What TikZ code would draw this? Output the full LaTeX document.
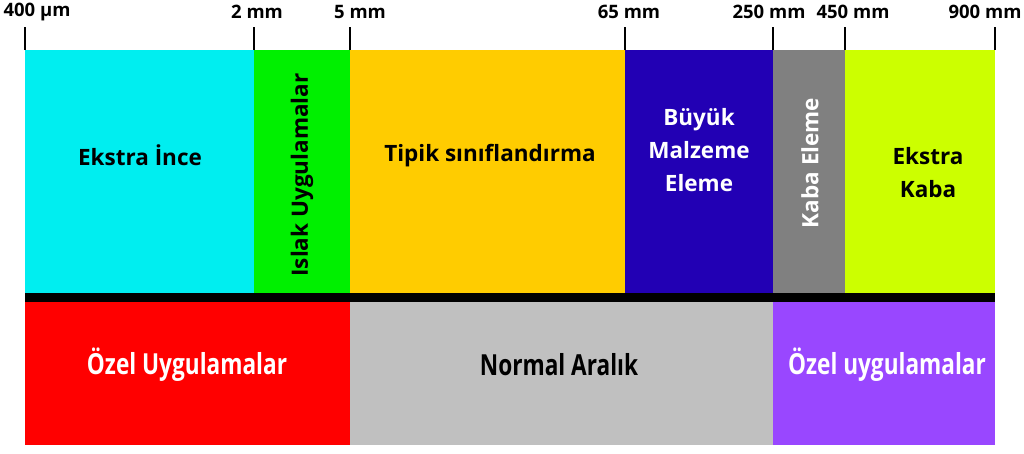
\documentclass[tikz,border=0pt]{standalone}
\usepackage{fontspec}
\setmainfont{Open Sans}
\newfontfamily\narrowfont{Open Sans}[FakeStretch=0.78]
\usepackage{tikz}
\usetikzlibrary{math}

\definecolor{extrafine}{RGB}{0,238,240}
\definecolor{wetuse}{RGB}{0,240,0}
\definecolor{typical}{RGB}{255,204,0}
\definecolor{bigmat}{RGB}{34,0,180}
\definecolor{coarse}{RGB}{128,128,128}
\definecolor{extracoarse}{RGB}{204,255,0}
\definecolor{specialred}{RGB}{255,0,0}
\definecolor{normalgray}{RGB}{192,192,192}
\definecolor{specialviolet}{RGB}{153,71,255}

\begin{document}
\begin{tikzpicture}[x=1pt, y=-1pt,
  ticklabel/.style={font=\fontsize{18.5}{20}\selectfont\bfseries},
  toplabel/.style={font=\fontsize{22.5}{33}\selectfont\bfseries, align=center},
  botlabel/.style={font=\narrowfont\fontsize{29}{32}\selectfont\bfseries}]

\tikzmath{
			\xa = 25; \xb = 254; \xc = 350; \xd = 625;
			\xe = 773; \xf = 845; \xg = 995;
			\ytop = 50; \ymid = 293; \yband = 302; \ybot = 445;
          }

\useasboundingbox (0,0) rectangle (1024,453);

% top row
\fill[extrafine]   (\xa,\ytop) rectangle (\xb,\ymid);
\fill[wetuse]      (\xb,\ytop) rectangle (\xc,\ymid);
\fill[typical]     (\xc,\ytop) rectangle (\xd,\ymid);
\fill[bigmat]      (\xd,\ytop) rectangle (\xe,\ymid);
\fill[coarse]      (\xe,\ytop) rectangle (\xf,\ymid);
\fill[extracoarse] (\xf,\ytop) rectangle (\xg,\ymid);

\fill[black] (\xa,\ymid) rectangle (\xg,\yband);

% bottom row
\fill[specialred]    (\xa,\yband) rectangle (\xc,\ybot);
\fill[normalgray]    (\xc,\yband) rectangle (\xe,\ybot);
\fill[specialviolet] (\xe,\yband) rectangle (\xg,\ybot);

% scale
\foreach \x/\lx/\lbl in {25/37/400 µm, 254/257/2 mm, 350/360/5 mm, 625/629/65 mm,
                        773/769/250 mm, 845/853/450 mm, 995/985/900 mm}
{
\draw[line width=1.2pt] (\x,27) -- (\x,\ytop);
\node[ticklabel] (tick\x) at (\lx,12) {\lbl};
}

\node[toplabel] (fine) at (140,155) {Ekstra İnce};
\node[toplabel, rotate=90] (wet) at (302,175) {Islak Uygulamalar};
\node[toplabel] (typ) at (490,156) {Tipik sınıflandırma};
\node[toplabel, white] (big) at (699,150) {Büyük\\Malzeme\\Eleme};
\node[toplabel, white, rotate=90] (coarsescr) at (810,163) {Kaba Eleme};
\node[toplabel] (xcoarse) at (928,173) {Ekstra\\Kaba};

\node[botlabel, white] (spec1) at (187,365) {Özel Uygulamalar};
\node[botlabel] (normal) at (559,365) {Normal Aralık};
\node[botlabel, white] (spec2) at (887,365) {Özel uygulamalar};

\end{tikzpicture}
\end{document}
